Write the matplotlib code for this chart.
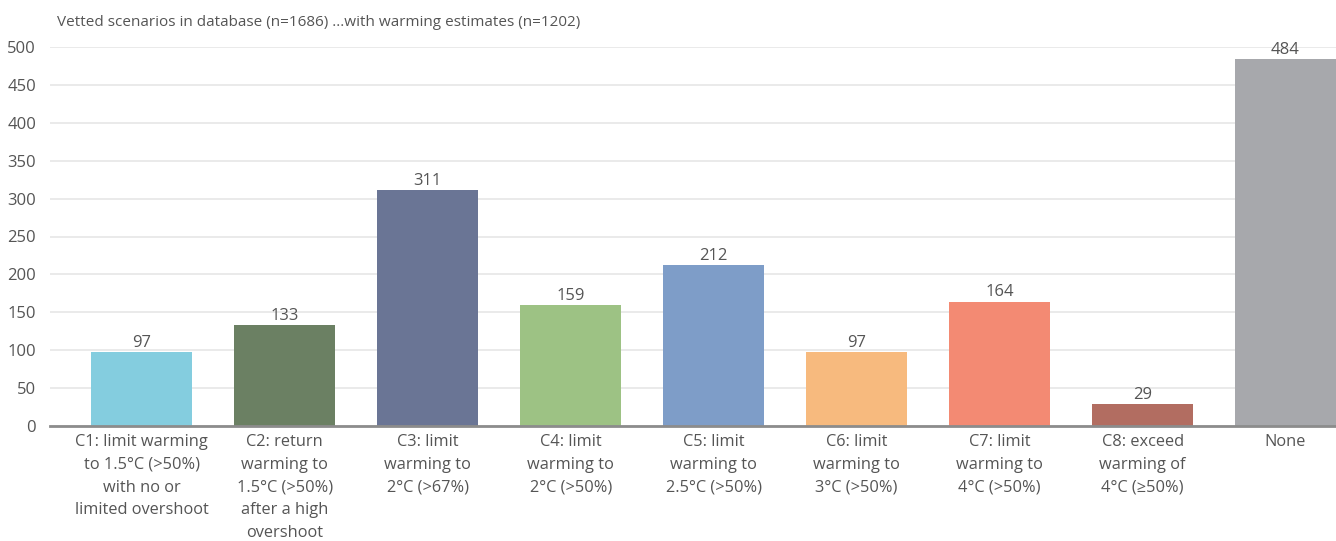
import matplotlib.pyplot as plt
import numpy as np

categories = ['C1: limit warming\nto 1.5°C (>50%)\nwith no or\nlimited overshoot',
              'C2: return\nwarming to\n1.5°C (>50%)\nafter a high\novershoot',
              'C3: limit\nwarming to\n2°C (>67%)',
              'C4: limit\nwarming to\n2°C (>50%)',
              'C5: limit\nwarming to\n2.5°C (>50%)',
              'C6: limit\nwarming to\n3°C (>50%)',
              'C7: limit\nwarming to\n4°C (>50%)',
              'C8: exceed\nwarming of\n4°C (≥50%)',
              'None']
counts = [97, 133, 311, 159, 212, 97, 164, 29, 484]
colors = ['#84CDDF', '#6B8063', '#6A7595', '#9DC284', '#7E9DC8',
          '#F7BA7E', '#F38A73', '#B26D61', '#A7A8AC']
title = 'Vetted scenarios in database (n=1686) ...with warming estimates (n=1202)'

plt.rcParams['font.family'] = ['Open Sans', 'DejaVu Sans']
txt = '#555555'

fig = plt.figure(figsize=(13.36, 5.41), dpi=100)
ax = fig.add_axes([50 / 1336, 115 / 541, 1 - 50 / 1336, (426 - 47) / 541])

x = np.arange(len(categories))
bars = ax.bar(x, counts, width=0.706, color=colors, zorder=2)
for b, v in zip(bars, counts):
    ax.text(b.get_x() + b.get_width() / 2, v + 2, str(v), ha='center', va='bottom',
            fontsize=12, color=txt, clip_on=False)

ax.set_xlim(-0.643, 8.353)
ax.set_ylim(0, 500)
ax.set_yticks(range(0, 501, 50))
ax.set_xticks(x)
ax.set_xticklabels(categories, fontsize=11.8, color=txt, linespacing=1.55)
ax.tick_params(axis='y', labelsize=12, labelcolor=txt, length=0, pad=10)
ax.tick_params(axis='x', length=0, pad=6)
ax.yaxis.grid(True, color='#e6e6e6', linewidth=1.2, zorder=0)
ax.set_axisbelow(True)
for s in ['top', 'right', 'left']:
    ax.spines[s].set_visible(False)
ax.spines['bottom'].set_color('#8c8c8c')
ax.spines['bottom'].set_linewidth(2)
ax.spines['bottom'].set_zorder(3)

fig.text(57 / 1336, 1 - 22 / 541, title, fontsize=11, color=txt, va='center', ha='left')

fig.savefig('out.png', dpi=100)
